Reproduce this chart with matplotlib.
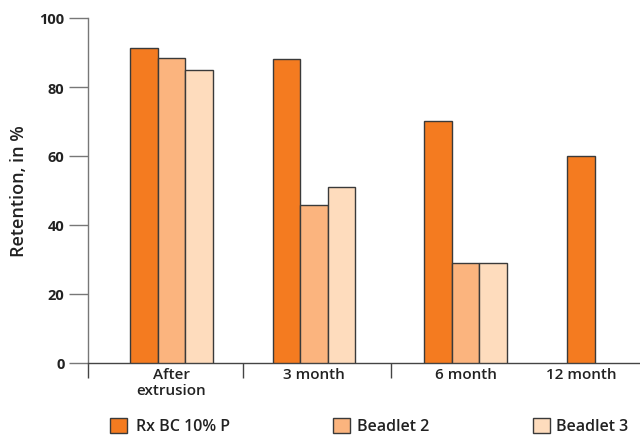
import matplotlib
matplotlib.use("Agg")
import matplotlib.pyplot as plt
from matplotlib.patches import Rectangle

categories = ["After\nextrusion", "3 month", "6 month", "12 month"]
series_names = ["Rx BC 10% P", "Beadlet 2", "Beadlet 3"]
rx_bc = [91.2, 88.2, 70.1, 60.1]
beadlet2 = [88.4, 45.7, 29.1, None]
beadlet3 = [84.9, 51.0, 29.1, None]
y_ticks = [0, 20, 40, 60, 80, 100]

colors = ["#F47B20", "#FBB47E", "#FEDCBD"]
edge = "#3a3a3a"
FONT = ["Open Sans", "DejaVu Sans"]
plt.rcParams["font.family"] = FONT

W, H = 640, 439
fig = plt.figure(figsize=(W / 100, H / 100), dpi=100)
ax = fig.add_axes([88 / W, 1 - 364 / H, 552 / W, 345 / H])

# layout (in pixel-like x units relative to left spine)
group_centers = [83.5, 226.0, 377.7, 493.0]
bar_w = 27.5
sep_ticks = [0, 155, 303]

all_series = [rx_bc, beadlet2, beadlet3]
for gi, c in enumerate(group_centers):
    present = [si for si in range(3) if all_series[si][gi] is not None]
    n = len(present)
    for k, si in enumerate(present):
        x = c + (k - (n - 1) / 2) * bar_w
        ax.bar(x, all_series[si][gi], width=bar_w, color=colors[si],
               edgecolor=edge, linewidth=1.0, zorder=3)

ax.set_xlim(0, 552)
ax.set_ylim(0, 100)
for s in ["top", "right"]:
    ax.spines[s].set_visible(False)
ax.spines["left"].set_color("#777777")
ax.spines["bottom"].set_color("#444444")
ax.spines["left"].set_linewidth(1.0)
ax.spines["bottom"].set_linewidth(1.0)

ax.set_yticks(y_ticks)
ax.set_yticklabels([str(v) for v in y_ticks], fontsize=10.5, fontweight="bold", color="#222222")
ax.tick_params(axis="y", length=14, width=1, color="#777777", pad=3)

ax.set_xticks(group_centers)
ax.set_xticklabels(categories, fontsize=11, fontweight="semibold", color="#222222", linespacing=1.2)
ax.tick_params(axis="x", which="major", length=0, pad=3)
ax.set_xticks(sep_ticks, minor=True)
ax.tick_params(axis="x", which="minor", length=11, width=1, color="#444444")

ax.set_ylabel("Retention, in %", fontsize=13, fontweight="semibold", color="#222222", labelpad=8)

# legend
leg_items = [(110, 136), (333, 357), (533, 556)]
for (sx, tx), name, col in zip(leg_items, series_names, colors):
    fig.add_artist(Rectangle((sx / W, 1 - 434 / H), 16.5 / W, 15 / H,
                             transform=fig.transFigure, facecolor=col,
                             edgecolor=edge, linewidth=1.0))
    fig.text(tx / W, 1 - 427 / H, name, fontsize=11.5, fontweight="semibold",
             color="#222222", va="center", ha="left")

fig.savefig("out.png", dpi=100)
